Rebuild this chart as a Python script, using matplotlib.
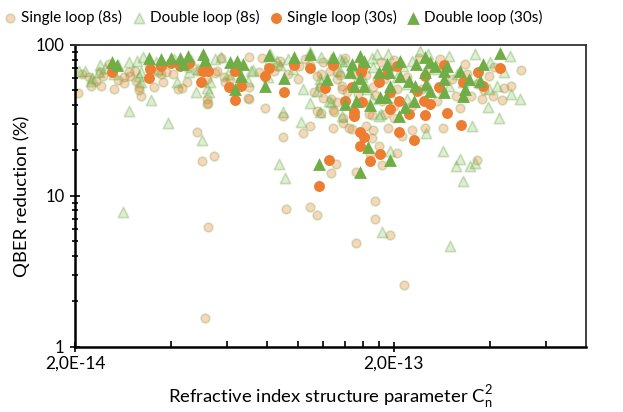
import numpy as np
import matplotlib
matplotlib.use('Agg')
import matplotlib.pyplot as plt
from matplotlib.ticker import FixedLocator, NullFormatter

plt.rcParams['font.family'] = ['Lato', 'DejaVu Sans']
plt.rcParams['font.size'] = 11

# Cn2 values in units of 1e-14, QBER reduction in %
single8_cn2 = [4.84, 5.45, 5.01, 5.23, 5.12, 5.19, 9.2, 10.9, 11.5, 12.7, 13.2, 15.2, 15.2, 17.5, 17.4, 19.4,
               21.5, 20.5, 18.4, 16.8, 36.5, 28.4, 19.1, 21.2, 7.9, 9.0, 10.4, 10.9, 12.9, 11.8, 13.0, 13.8,
               14.8, 16.3, 17.2, 17.1, 17.9, 7.0, 9.0, 32.3, 25.1, 22.8, 14.5, 11.5, 12.9, 15.0, 17.1, 20.0,
               13.8, 18.8, 16.7, 3.22, 5.23, 6.95,
               2.05, 2.1, 2.25, 2.32, 2.42, 2.40, 2.45, 2.65, 2.73, 2.85, 2.85, 2.95, 2.97, 3.09, 3.1, 3.18,
               3.18, 3.53, 3.78, 3.65, 3.73, 3.86, 4.05, 4.22, 4.34, 4.5, 4.84, 4.97, 5.19, 5.19, 5.5, 5.57,
               5.73, 5.87, 5.9, 6.12, 6.6, 7.0, 7.56, 7.7, 8.4, 8.67, 8.8, 10.1, 10.9, 11.5, 11.7, 12.0,
               11.8, 13.3, 13.3, 13.7, 15.1, 11.2, 12.6, 13.3, 14.2, 12.7, 13.7, 18.6, 17.2, 17.5, 18.4, 20.0,
               20.5, 22.8, 27.3, 31.3, 33.3, 34.9, 37.8, 38.3, 39.7, 41.0, 41.3, 43.7, 44.3, 46.6, 49.9, 27.9,
               24.0, 20.0, 18.2, 15.9, 14.0, 12.0, 10.5, 13.5, 16.3, 17.7, 19.1, 22.0, 25.4, 30.5, 33.9, 36.5,
               24.5, 28.3, 15.4, 10.0, 9.3, 7.0, 6.5, 4.53, 3.40, 2.55, 2.21]
single8_qber = [26.3, 18.5, 17.1, 6.2, 1.56, 40.4, 8.2, 8.4, 7.5, 14.2, 16.3, 14.5, 4.9, 9.3, 7.0, 5.5,
                2.55, 19.1, 16.1, 18.8, 17.4, 28.3, 28.3, 24.9, 38.0, 24.7, 25.9, 28.9, 28.3, 35.3, 35.8, 30.6,
                27.9, 28.9, 27.5, 24.2, 21.5, 43.7, 33.6, 38.0, 28.3, 27.5, 28.3, 36.3, 36.8, 33.6, 34.1, 33.0,
                33.0, 34.7, 34.7, 45.7, 41.1, 44.4,
                48.0, 64.1, 53.8, 57.5, 53.8, 66.1, 62.1, 50.9, 58.6, 56.2, 60.9, 66.1, 62.1, 67.1, 57.5, 52.5,
                50.1, 52.5, 56.7, 66.1, 64.1, 66.1, 64.1, 50.9, 51.7, 56.7, 67.1, 67.1, 59.3, 43.7, 65.4, 67.1,
                81.9, 60.9, 56.7, 59.3, 57.5, 83.2, 66.1, 81.9, 67.1, 72.4, 78.2, 72.4, 73.6, 62.1, 52.5, 44.4,
                64.1, 66.1, 59.3, 53.3, 63.1, 48.6, 67.1, 41.7, 48.6, 43.7, 50.9, 59.3, 52.5, 46.4, 42.3, 39.2,
                50.9, 39.2, 42.3, 45.7, 74.7, 45.7, 43.7, 50.1, 62.1, 45.7, 71.3, 43.0, 51.7, 53.3, 68.1, 80.7,
                81.9, 79.4, 77.0, 77.0, 81.9, 77.0, 80.7, 63.1, 63.1, 59.3, 69.2, 60.9, 67.1, 59.3, 64.1, 55.0,
                50.9, 49.4, 47.2, 59.3, 64.1, 52.5, 69.2, 70.9, 74.7, 74.7, 60.9]

double8_cn2 = [2.96, 3.9, 5.01, 2.83, 3.45, 8.7, 9.1, 18.4, 29.9, 28.4, 32.1, 31.3, 34.6, 35.9, 33.0, 25.2,
               35.2, 42.8, 19.4, 8.98, 10.2, 10.9, 12.7, 11.7, 12.5, 13.7, 18.2, 17.1, 22.0, 18.0, 39.5, 49.7,
               46.6, 3.22, 4.8, 5.19, 5.26, 10.4, 11.5, 11.8, 6.95, 7.1,
               2.06, 2.15, 2.25, 2.26, 2.4, 2.37, 2.49, 2.73, 2.96, 3.14, 3.26, 3.22, 3.18, 3.58, 4.1, 4.17,
               4.56, 4.63, 5.3, 5.5, 5.73, 7.24, 8.2, 8.1, 8.6, 8.8, 10.9, 12.7, 13.5, 13.7, 14.0, 11.8,
               13.5, 14.8, 15.4, 16.5, 17.1, 17.7, 19.1, 17.2, 19.3, 19.4, 21.4, 24.2, 25.6, 29.8, 35.9, 39.9,
               44.3, 42.1, 37.0, 25.6, 29.8, 32.9, 39.7, 46.3, 11.7, 22.0, 27.3, 31.6, 22.8, 20.5, 15.9, 6.5,
               6.05, 4.87, 3.65, 2.65, 8.06, 9.65, 9.3]
double8_qber = [36.3, 30.6, 23.3, 7.8, 42.9, 16.3, 13.2, 5.75, 4.64, 19.7, 17.6, 15.8, 15.8, 16.6, 12.6, 25.9,
                28.9, 33.0, 19.7, 35.8, 31.1, 41.1, 41.7, 35.8, 42.3, 33.6, 34.7, 43.7, 43.7, 33.6, 38.6, 43.7,
                47.2, 56.7, 48.6, 51.7, 48.6, 50.9, 49.4, 56.7, 57.5, 67.1,
                67.6, 67.6, 57.5, 60.3, 73.6, 66.1, 70.3, 73.6, 77.0, 78.2, 83.2, 66.1, 62.1, 77.0, 80.7, 56.7,
                66.1, 79.4, 56.7, 80.7, 83.2, 68.1, 87.1, 78.2, 78.2, 73.6, 89.7, 80.7, 67.1, 78.2, 78.2, 83.2,
                80.7, 72.4, 56.7, 50.9, 81.9, 87.1, 87.1, 71.3, 72.4, 48.6, 72.4, 91.4, 87.1, 84.5, 87.1, 77.0,
                66.1, 53.3, 60.3, 53.3, 53.3, 56.7, 50.9, 84.5, 59.3, 55.0, 69.2, 64.1, 78.2, 60.9, 60.9, 74.7,
                64.1, 69.2, 69.2, 64.1, 60.9, 69.2, 80.7]

single30_cn2 = [2.61, 3.40, 3.43, 3.73, 4.01, 4.28, 4.56, 4.97, 5.04, 5.23, 6.08, 6.35, 6.35, 6.63, 7.87, 8.10,
                9.02, 9.69, 10.9, 11.6, 12.5, 12.2, 12.9, 14.0, 14.8, 15.0, 15.0, 15.7, 16.1, 15.7, 15.8, 16.0,
                15.9, 16.8, 18.1, 18.0, 19.0, 19.4, 19.4, 20.4, 20.8, 20.8, 23.1, 22.3, 23.6, 24.8, 25.0, 25.0,
                25.9, 27.6, 28.8, 29.4, 32.4, 33.0, 36.8, 38.1, 43.1]
single30_qber = [66.1, 60.3, 69.2, 72.4, 75.9, 72.4, 75.9, 56.7, 67.1, 67.1, 52.5, 67.1, 43.0, 53.3, 62.1, 70.3,
                 48.6, 73.6, 70.3, 11.7, 17.4, 51.7, 73.6, 42.3, 52.5, 35.8, 33.6, 26.3, 24.4, 21.5, 66.1, 72.4,
                 41.7, 16.9, 18.8, 56.7, 64.1, 48.6, 37.4, 72.4, 42.3, 26.3, 23.3, 34.7, 49.4, 42.3, 62.1, 34.1,
                 40.4, 52.5, 73.6, 35.2, 29.7, 56.7, 66.1, 53.3, 70.3]

double30_cn2 = [2.61, 2.70, 3.40, 3.73, 4.01, 4.28, 4.53, 4.37, 5.04, 5.12, 6.12, 6.44, 6.63, 6.35, 6.72, 7.87,
                8.10, 9.02, 9.69, 10.9, 12.9, 12.3, 14.8, 14.6, 15.7, 16.1, 15.7, 15.0, 16.1, 14.0, 15.2, 16.8,
                18.0, 19.0, 19.3, 20.9, 20.9, 18.1, 19.4, 18.9, 20.8, 16.6, 11.6, 15.7, 19.4, 23.4, 25.0, 25.9,
                26.8, 28.6, 28.8, 29.3, 25.0, 22.3, 23.3, 25.9, 28.6, 23.1, 21.6, 32.1, 34.5, 33.3, 33.0, 37.9,
                37.1, 25.2, 43.1]
double30_qber = [77.0, 73.6, 81.9, 80.7, 81.9, 81.9, 84.5, 74.7, 87.1, 79.4, 77.0, 78.2, 62.1, 50.9, 74.7, 53.3,
                 85.8, 60.3, 83.2, 87.1, 83.2, 59.3, 74.7, 66.1, 84.5, 78.2, 60.3, 53.3, 53.3, 40.4, 42.3, 39.8,
                 66.1, 74.7, 66.1, 78.2, 62.1, 45.0, 53.3, 45.0, 33.6, 21.2, 16.3, 14.5, 17.4, 74.7, 83.2, 77.0,
                 72.4, 67.1, 59.3, 72.4, 66.1, 57.5, 53.3, 49.4, 48.6, 42.3, 38.6, 67.1, 59.3, 50.9, 45.7, 74.7,
                 57.5, 55.0, 88.4]

labels = ['Single loop (8s)', 'Double loop (8s)', 'Single loop (30s)', 'Double loop (30s)']
xtick_labels = ['2,0E-14', '2,0E-13']
ytick_labels = ['1', '10', '100']

orange = (0.929, 0.490, 0.192)
green = (0.439, 0.678, 0.278)

fig = plt.figure(figsize=(6.23, 4.12), dpi=100)
ax = fig.add_axes([0.1204, 0.1585, 0.8202, 0.7323])

ax.scatter(np.array(single8_cn2) * 1e-14, single8_qber, s=40, marker='o',
           facecolor=orange + (0.32,), edgecolor=green + (0.3,), linewidth=1.2, label=labels[0])
ax.scatter(np.array(double8_cn2) * 1e-14, double8_qber, s=55, marker='^',
           facecolor=green + (0.22,), edgecolor=green + (0.35,), linewidth=1.2, label=labels[1])
ax.scatter(np.array(single30_cn2) * 1e-14, single30_qber, s=62, marker='o',
           color=orange, linewidth=0, label=labels[2])
ax.scatter(np.array(double30_cn2) * 1e-14, double30_qber, s=85, marker='^',
           color=green, linewidth=0, label=labels[3])

ax.set_xscale('log')
ax.set_yscale('log')
ax.set_xlim(2e-14, 8e-13)
ax.set_ylim(1, 100)

ax.xaxis.set_major_locator(FixedLocator([2e-14, 2e-13]))
ax.xaxis.set_minor_locator(FixedLocator([k * 2e-14 for k in range(2, 10)] + [4e-13, 6e-13]))
ax.set_xticklabels(xtick_labels)
ax.xaxis.set_minor_formatter(NullFormatter())
ax.yaxis.set_major_locator(FixedLocator([1, 10, 100]))
ax.set_yticklabels(ytick_labels)
ax.yaxis.set_minor_formatter(NullFormatter())

ax.tick_params(axis='x', which='major', direction='inout', length=7, width=1.2, pad=3, labelsize=12.5)
ax.tick_params(axis='x', which='minor', direction='in', length=4, width=1.2)
ax.tick_params(axis='y', which='major', direction='inout', length=7, width=1.2, pad=4, labelsize=12)
ax.tick_params(axis='y', which='minor', direction='inout', length=5, width=1.2)

for side in ['left', 'bottom']:
    ax.spines[side].set_linewidth(1.8)
    ax.spines[side].set_color('black')
for side in ['top', 'right']:
    ax.spines[side].set_linewidth(1.3)
    ax.spines[side].set_color('#333333')

ax.set_xlabel(r'Refractive index structure parameter C$_\mathregular{n}^\mathregular{2}$', fontsize=13.3, labelpad=8)
ax.set_ylabel('QBER reduction (%)', fontsize=13.3, labelpad=4)

fig.legend(loc='upper center', bbox_to_anchor=(0.44, 1.0), ncol=4, frameon=False,
           handlelength=0.6, handletextpad=0.4, columnspacing=0.8, fontsize=11, borderaxespad=0.25)

plt.savefig('out.png', dpi=100)
